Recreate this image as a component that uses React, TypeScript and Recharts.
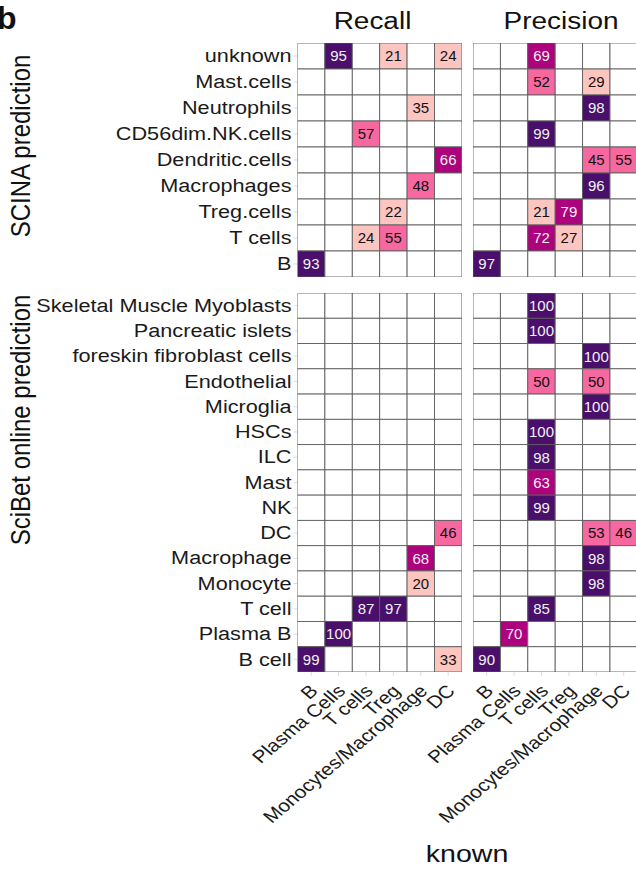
import React from 'react';
import { ScatterChart, Scatter, XAxis, YAxis } from 'recharts';

// columns of every panel (known cell type)
const KNOWN = ['B', 'Plasma Cells', 'T cells', 'Treg', 'Monocytes/Macrophage', 'DC'];

// SCINA rows, top to bottom
const SCINA_ROWS = [
  'unknown', 'Mast.cells', 'Neutrophils', 'CD56dim.NK.cells', 'Dendritic.cells',
  'Macrophages', 'Treg.cells', 'T cells', 'B',
];
const SCINA_RECALL = [
  [null, 95, null, 21, null, 24],
  [null, null, null, null, null, null],
  [null, null, null, null, 35, null],
  [null, null, 57, null, null, null],
  [null, null, null, null, null, 66],
  [null, null, null, null, 48, null],
  [null, null, null, 22, null, null],
  [null, null, 24, 55, null, null],
  [93, null, null, null, null, null],
];
const SCINA_PRECISION = [
  [null, null, 69, null, null, null],
  [null, null, 52, null, 29, null],
  [null, null, null, null, 98, null],
  [null, null, 99, null, null, null],
  [null, null, null, null, 45, 55],
  [null, null, null, null, 96, null],
  [null, null, 21, 79, null, null],
  [null, null, 72, 27, null, null],
  [97, null, null, null, null, null],
];

// SciBet rows, top to bottom
const SCIBET_ROWS = [
  'Skeletal Muscle Myoblasts', 'Pancreatic islets', 'foreskin fibroblast cells', 'Endothelial',
  'Microglia', 'HSCs', 'ILC', 'Mast', 'NK', 'DC', 'Macrophage', 'Monocyte', 'T cell',
  'Plasma B', 'B cell',
];
const SCIBET_RECALL = [
  [null, null, null, null, null, null],
  [null, null, null, null, null, null],
  [null, null, null, null, null, null],
  [null, null, null, null, null, null],
  [null, null, null, null, null, null],
  [null, null, null, null, null, null],
  [null, null, null, null, null, null],
  [null, null, null, null, null, null],
  [null, null, null, null, null, null],
  [null, null, null, null, null, 46],
  [null, null, null, null, 68, null],
  [null, null, null, null, 20, null],
  [null, null, 87, 97, null, null],
  [null, 100, null, null, null, null],
  [99, null, null, null, null, 33],
];
const SCIBET_PRECISION = [
  [null, null, 100, null, null, null],
  [null, null, 100, null, null, null],
  [null, null, null, null, 100, null],
  [null, null, 50, null, 50, null],
  [null, null, null, null, 100, null],
  [null, null, 100, null, null, null],
  [null, null, 98, null, null, null],
  [null, null, 63, null, null, null],
  [null, null, 99, null, null, null],
  [null, null, null, null, 53, 46],
  [null, null, null, null, 98, null],
  [null, null, null, null, 98, null],
  [null, null, 85, null, null, null],
  [null, 70, null, null, null, null],
  [90, null, null, null, null, null],
];

const FONT = '"Liberation Sans", Arial, Helvetica, sans-serif';
const SX = 1.19; // the source figure's text is wide

// layout
const LEFT_X = 30;
const Y_AXIS_W = 267.5;
const RIGHT_X = 473.3;
const RIGHT_PAD = 190; // room on the left for rotated tick labels
const PW = 164.4;
const TOP_Y = 43;
const TOP_H = 234;
const BOT_Y = 293;
const BOT_H = 379;
const X_AXIS_H = 160;

function tileColor(v: number | null) {
  if (v == null) return '#ffffff';
  if (v < 40) return '#fcc5c0';
  if (v < 60) return '#f768a1';
  if (v < 80) return '#ae017e';
  return '#4a0f6b';
}

function Tile(props: any) {
  const { cx, cy, payload, cw, ch } = props;
  const v = payload.value;
  return (
    <g>
      <rect x={cx - cw / 2} y={cy - ch / 2} width={cw} height={ch} fill={tileColor(v)} stroke="#5e5e5e" strokeWidth={0.9} />
      {v != null && (
        <text
          x={cx}
          y={cy}
          textAnchor="middle"
          dy="0.36em"
          fontSize={15}
          fontFamily={FONT}
          fill={v >= 60 ? '#f2f2f2' : '#111'}
        >
          {v}
        </text>
      )}
    </g>
  );
}

function RowTick(props: any) {
  const { x, y, payload, labels } = props;
  return (
    <text
      transform={`translate(${x},${y}) scale(${SX},1)`}
      textAnchor="end"
      dy="0.34em"
      fontSize={18.2}
      fontFamily={FONT}
      fill="#1a1a1a"
    >
      {labels[payload.value]}
    </text>
  );
}

function ColTick(props: any) {
  const { x, y, payload } = props;
  return (
    <text
      transform={`translate(${x + 8},${y + 14}) scale(${SX},1) rotate(-45)`}
      textAnchor="end"
      fontSize={17.5}
      fontFamily={FONT}
      fill="#1a1a1a"
    >
      {KNOWN[payload.value]}
    </text>
  );
}

function Panel({ rows, values, showY, showX, plotH, padLeft = 0 }: any) {
  const cells = rows.flatMap((name: string, r: number) =>
    KNOWN.map((k, c) => ({ col: c, row: r, known: k, pred: name, value: values[r][c] }))
  );
  const cw = PW / KNOWN.length;
  const ch = plotH / rows.length;
  const width = PW + (showY ? Y_AXIS_W : 0) + padLeft;
  const height = plotH + (showX ? X_AXIS_H : 0);
  return (
    <ScatterChart width={width} height={height} margin={{ top: 0, right: 0, bottom: 0, left: padLeft }}>
      <XAxis
        type="number"
        dataKey="col"
        domain={[-0.5, KNOWN.length - 0.5]}
        ticks={KNOWN.map((_, i) => i)}
        allowDataOverflow
        interval={0}
        hide={!showX}
        height={X_AXIS_H}
        axisLine={false}
        tickLine={{ stroke: '#dcdcdc' }}
        tickSize={4}
        tick={<ColTick />}
      />
      <YAxis
        type="number"
        dataKey="row"
        reversed
        domain={[-0.5, rows.length - 0.5]}
        ticks={rows.map((_: string, i: number) => i)}
        allowDataOverflow
        interval={0}
        hide={!showY}
        width={Y_AXIS_W}
        axisLine={false}
        tickLine={{ stroke: '#dcdcdc' }}
        tickSize={4}
        tick={(p: any) => <RowTick {...p} labels={rows} />}
      />
      <Scatter
        data={cells}
        isAnimationActive={false}
        shape={(p: any) => <Tile {...p} cw={cw} ch={ch} />}
      />
    </ScatterChart>
  );
}

export default function App() {
  const box = (left: number, top: number): React.CSSProperties => ({ position: 'absolute', left, top });
  return (
    <div style={{ position: 'relative', width: 636, height: 870, overflow: 'hidden', background: '#fff', fontFamily: FONT }}>
      <style>{'body{margin:0}'}</style>
      <svg width={636} height={870} style={{ position: 'absolute', left: 0, top: 0 }}>
        <text x={-3} y={29} fontSize={32} fontWeight="bold" fontFamily={FONT} fill="#111">b</text>
        <text transform={`translate(372.5,29) scale(${SX},1)`} textAnchor="middle" fontSize={23.5} fontFamily={FONT} fill="#111">Recall</text>
        <text transform={`translate(561,29) scale(${SX},1)`} textAnchor="middle" fontSize={23.5} fontFamily={FONT} fill="#111">Precision</text>
        <text transform={`translate(29.5,146) scale(${SX},1) rotate(-90)`} textAnchor="middle" fontSize={24} fontFamily={FONT} fill="#111">SCINA prediction</text>
        <text transform={`translate(29.5,420) scale(${SX},1) rotate(-90)`} textAnchor="middle" fontSize={24} fontFamily={FONT} fill="#111">SciBet online prediction</text>
        <text transform={`translate(467,862) scale(${SX},1)`} textAnchor="middle" fontSize={24} fontFamily={FONT} fill="#111">known</text>
      </svg>
      <div style={box(LEFT_X, TOP_Y)}>
        <Panel rows={SCINA_ROWS} values={SCINA_RECALL} showY showX={false} plotH={TOP_H} />
      </div>
      <div style={box(RIGHT_X - RIGHT_PAD, TOP_Y)}>
        <Panel rows={SCINA_ROWS} values={SCINA_PRECISION} showY={false} showX={false} plotH={TOP_H} padLeft={RIGHT_PAD} />
      </div>
      <div style={box(LEFT_X, BOT_Y)}>
        <Panel rows={SCIBET_ROWS} values={SCIBET_RECALL} showY showX plotH={BOT_H} />
      </div>
      <div style={box(RIGHT_X - RIGHT_PAD, BOT_Y)}>
        <Panel rows={SCIBET_ROWS} values={SCIBET_PRECISION} showY={false} showX plotH={BOT_H} padLeft={RIGHT_PAD} />
      </div>
    </div>
  );
}
